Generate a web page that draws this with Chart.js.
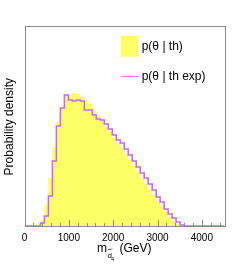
<!DOCTYPE html>
<html>
<head>
<meta charset="utf-8">
<script src="https://cdn.jsdelivr.net/npm/chart.js@4.4.0/dist/chart.umd.min.js"></script>
<style>
html, body { margin: 0; padding: 0; background: #ffffff; }
canvas { display: block; }
</style>
</head>
<body>
<canvas id="histChart" width="249" height="266"></canvas>
<script>
// 50 bins of 90 GeV, 0 - 4500 GeV
var binWidth = 90;

// p(theta | th), yellow filled histogram
var thValues = [
    0, 0, 0, 2, 6, 22, 48, 79, 104, 118,
    127, 131, 133, 132, 129, 126, 122, 116, 110, 105,
    99, 94, 88, 83, 78, 72, 66, 60, 54, 48,
    42, 36, 31, 25, 20, 14, 9, 5, 2, 1,
    0, 0, 0, 0, 0, 0, 0, 0, 0, 0
];

// p(theta | th exp), magenta outline
var thExpValues = [
    0, 0, 0, 0, 3, 10, 30, 65, 100, 118,
    131, 126, 125, 126, 125, 116, 116, 111, 107, 106,
    102, 97, 91, 86, 83, 77, 71, 65, 59, 53,
    48, 42, 36, 29, 24, 17, 12, 8, 4, 1,
    0, 0, 0, 0, 0, 0, 0, 0, 0, 0
];

var xTickLabels = [0, 1000, 2000, 3000, 4000];
var legendLabels = ["p(\u03b8 | th)", "p(\u03b8 | th exp)"];

var fillColor = "#ffff66";
var lineColor = "#cc66ff";
var frameColor = "#8c8c8c";
var fontName = "'Liberation Sans', Arial, sans-serif";

function toSteps(values)
{
    var points = [];
    for (var i = 0; i < values.length; ++i)
    {
        points.push({x: i * binWidth, y: values[i]});
    }
    points.push({x: values.length * binWidth, y: values[values.length - 1]});
    return points;
}

var rootFrame = {
    id: "rootFrame",
    afterDraw: function(chart)
    {
        var ctx = chart.ctx;
        var area = chart.chartArea;
        var xScale = chart.scales.x;

        ctx.save();

        // ticks inside the frame, major every 1000, minor every 200
        ctx.strokeStyle = frameColor;
        ctx.lineWidth = 1;
        for (var v = 0; v <= xScale.max; v += 200)
        {
            var px = Math.round(xScale.getPixelForValue(v)) + 0.5;
            var len = (v % 1000 === 0) ? 6 : 3;
            ctx.beginPath();
            ctx.moveTo(px, area.bottom);
            ctx.lineTo(px, area.bottom - len);
            ctx.stroke();
        }

        ctx.strokeRect(Math.round(area.left) + 0.5, Math.round(area.top) + 0.5,
            Math.round(area.right - area.left), Math.round(area.bottom - area.top));

        // x title: m with subscript d-tilde_4
        ctx.fillStyle = "#000000";
        ctx.textBaseline = "alphabetic";
        ctx.textAlign = "left";
        var big = "12px " + fontName;
        var small = "8px " + fontName;
        var tiny = "5.5px " + fontName;
        ctx.font = big;
        var wm = ctx.measureText("m").width;
        var wrest = ctx.measureText("(GeV)").width;
        ctx.font = small;
        var wd = ctx.measureText("d").width;
        var total = wm + 1 + wd + 7 + wrest;
        var x0 = (area.left + area.right) / 2 - total / 2;
        ctx.font = big;
        ctx.fillText("m", x0, 252);
        ctx.font = small;
        var dx = x0 + wm + 0.5;
        ctx.fillText("d", dx, 257.7);

        // tilde over the d
        ctx.strokeStyle = "#000000";
        ctx.lineWidth = 0.8;
        ctx.beginPath();
        ctx.moveTo(dx + 0.5, 250.2);
        ctx.quadraticCurveTo(dx + 1.5, 248.4, dx + 2.4, 249.4);
        ctx.quadraticCurveTo(dx + 3.3, 250.4, dx + 4.3, 248.6);
        ctx.stroke();

        ctx.font = tiny;
        ctx.fillText("4", dx + wd - 1, 260.7);
        ctx.font = big;
        ctx.fillText("(GeV)", x0 + wm + 1 + wd + 7, 252);

        // y title
        ctx.save();
        ctx.translate(12.7, 126.7);
        ctx.rotate(-Math.PI / 2);
        ctx.textAlign = "center";
        ctx.font = big;
        ctx.fillText("Probability density", 0, 0);
        ctx.restore();

        // legend
        ctx.fillStyle = fillColor;
        ctx.fillRect(120.7, 36, 17.6, 20.7);
        ctx.strokeStyle = "#dd88ff";
        ctx.lineWidth = 1.2;
        ctx.beginPath();
        ctx.moveTo(120.7, 76.5);
        ctx.lineTo(138.3, 76.5);
        ctx.stroke();
        ctx.fillStyle = "#000000";
        ctx.font = big;
        ctx.textBaseline = "middle";
        ctx.fillText(legendLabels[0], 141.7, 46.5);
        ctx.fillText(legendLabels[1], 141.7, 76.5);

        ctx.restore();
    }
};

var chart = new Chart(document.getElementById("histChart").getContext("2d"), {
    type: "line",
    data: {
        datasets: [
            {
                label: legendLabels[1],
                data: toSteps(thExpValues),
                stepped: "before",
                borderColor: lineColor,
                borderWidth: 1.6,
                fill: false,
                pointRadius: 0
            },
            {
                label: legendLabels[0],
                data: toSteps(thValues),
                stepped: "before",
                borderWidth: 0,
                borderColor: fillColor,
                backgroundColor: fillColor,
                fill: "origin",
                pointRadius: 0
            }
        ]
    },
    options: {
        responsive: false,
        animation: false,
        devicePixelRatio: 1,
        layout: {
            padding: {left: 24.5, right: 25, top: 26, bottom: 0}
        },
        plugins: {
            legend: {display: false},
            tooltip: {enabled: false}
        },
        scales: {
            x: {
                type: "linear",
                min: 0,
                max: 4500,
                grid: {display: false, drawTicks: false},
                border: {display: false},
                afterFit: function(scale)
                {
                    scale.height = 40;
                },
                afterBuildTicks: function(scale)
                {
                    scale.ticks = xTickLabels.map(function(v) { return {value: v}; });
                },
                ticks: {
                    autoSkip: false,
                    maxRotation: 0,
                    padding: 6,
                    color: "#000000",
                    font: {family: fontName, size: 10},
                    callback: function(value)
                    {
                        return String(value);
                    }
                }
            },
            y: {
                display: false,
                min: 0,
                max: 200
            }
        }
    },
    plugins: [rootFrame]
});
</script>
</body>
</html>
